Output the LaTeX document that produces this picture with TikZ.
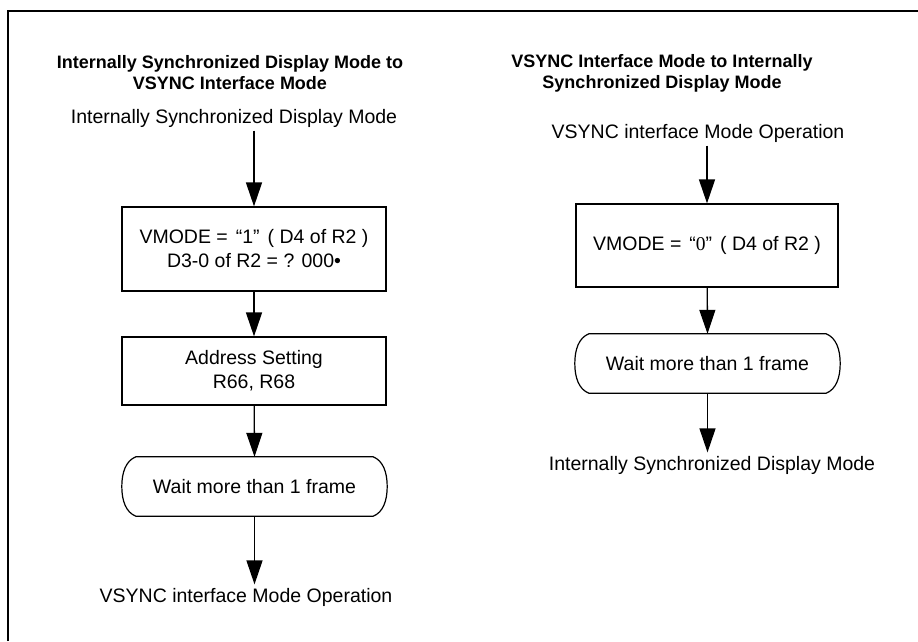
\documentclass[tikz,border=0pt]{standalone}
\usepackage{fontspec}
\setmainfont{Liberation Sans}
\newfontfamily\serifdigit{Liberation Serif}
\usetikzlibrary{arrows.meta, calc}

% outline of a "wait" step: flat top and bottom, bowed ends
\newcommand{\waitoutline}[1]{%
  \draw[outline] ($(#1.north west)+(14,0)$) -- ($(#1.north east)+(-14,0)$)
    .. controls ($(#1.north east)+(-4,4)$) and ($(#1.east)+(0,-14)$) .. (#1.east)
    .. controls ($(#1.east)+(0,14)$) and ($(#1.south east)+(-4,-4)$) .. ($(#1.south east)+(-14,0)$)
    -- ($(#1.south west)+(14,0)$)
    .. controls ($(#1.south west)+(4,-4)$) and ($(#1.west)+(0,14)$) .. (#1.west)
    .. controls ($(#1.west)+(0,-14)$) and ($(#1.north west)+(4,4)$) .. cycle;}

\begin{document}
\begin{tikzpicture}[x=1pt, y=-1pt,
    every node/.style={font=\fontsize{19.5}{24}\selectfont},
    title/.style={font=\fontsize{18}{21}\selectfont\bfseries, align=center},
    outline/.style={line width=1.2pt},
    procbox/.style={draw, outline, minimum width=264, minimum height=84, align=center},
    waitbox/.style={minimum width=265, minimum height=59, inner sep=0pt},
    flow/.style={-{Triangle[length=24pt,width=16pt]}, line width=1.3pt}]
  \useasboundingbox (0,0) rectangle (918,641);

  % Frame
  \draw[line width=1.5pt] (8,641) |- (918,11);

  % Internally synchronized -> VSYNC
  \node[title] (ltitle) at (230,73) {Internally Synchronized Display Mode to\\VSYNC Interface Mode};
  \node (lstart) at (234,118) {Internally Synchronized Display Mode};
  \node[procbox] (lset) at (254,249) {VMODE =\hspace{8pt}“1”\hspace{8pt}( D4 of R2 )\\D3-0 of R2 = ? 000•};
  \node[procbox, minimum height=68] (laddr) at (254,371) {Address Setting\\R66, R68};
  \node[waitbox] (lwait) at (254.5,486.5) {Wait more than 1 frame};
  \waitoutline{lwait}
  \node (lend) at (246,597) {VSYNC interface Mode Operation};

  \draw[flow] (lstart.south -| lset.north) -- (lset.north);
  \draw[flow] (lset) -- (laddr);
  \draw[flow] (laddr) -- (lwait.north);
  \draw[flow] (lwait.south) -- (lend.north -| lwait.south);

  % VSYNC -> internally synchronized
  \node[title] (rtitle) at (662,73) {VSYNC Interface Mode to Internally\\Synchronized Display Mode};
  \node (rstart) at (698,133) {VSYNC interface Mode Operation};
  \node[procbox, minimum width=262, minimum height=83] (rset) at (707,245.5) {VMODE =\hspace{8pt}“{\serifdigit 0}”\hspace{8pt}( D4 of R2 )};
  \node[waitbox] (rwait) at (707.5,363.5) {Wait more than 1 frame};
  \waitoutline{rwait}
  \node (rend) at (712,465) {Internally Synchronized Display Mode};

  \draw[flow] (rstart.south -| rset.north) -- (rset.north);
  \draw[flow] (rset) -- (rwait.north);
  \draw[flow] (rwait.south) -- (rend.north -| rwait.south);
\end{tikzpicture}
\end{document}
